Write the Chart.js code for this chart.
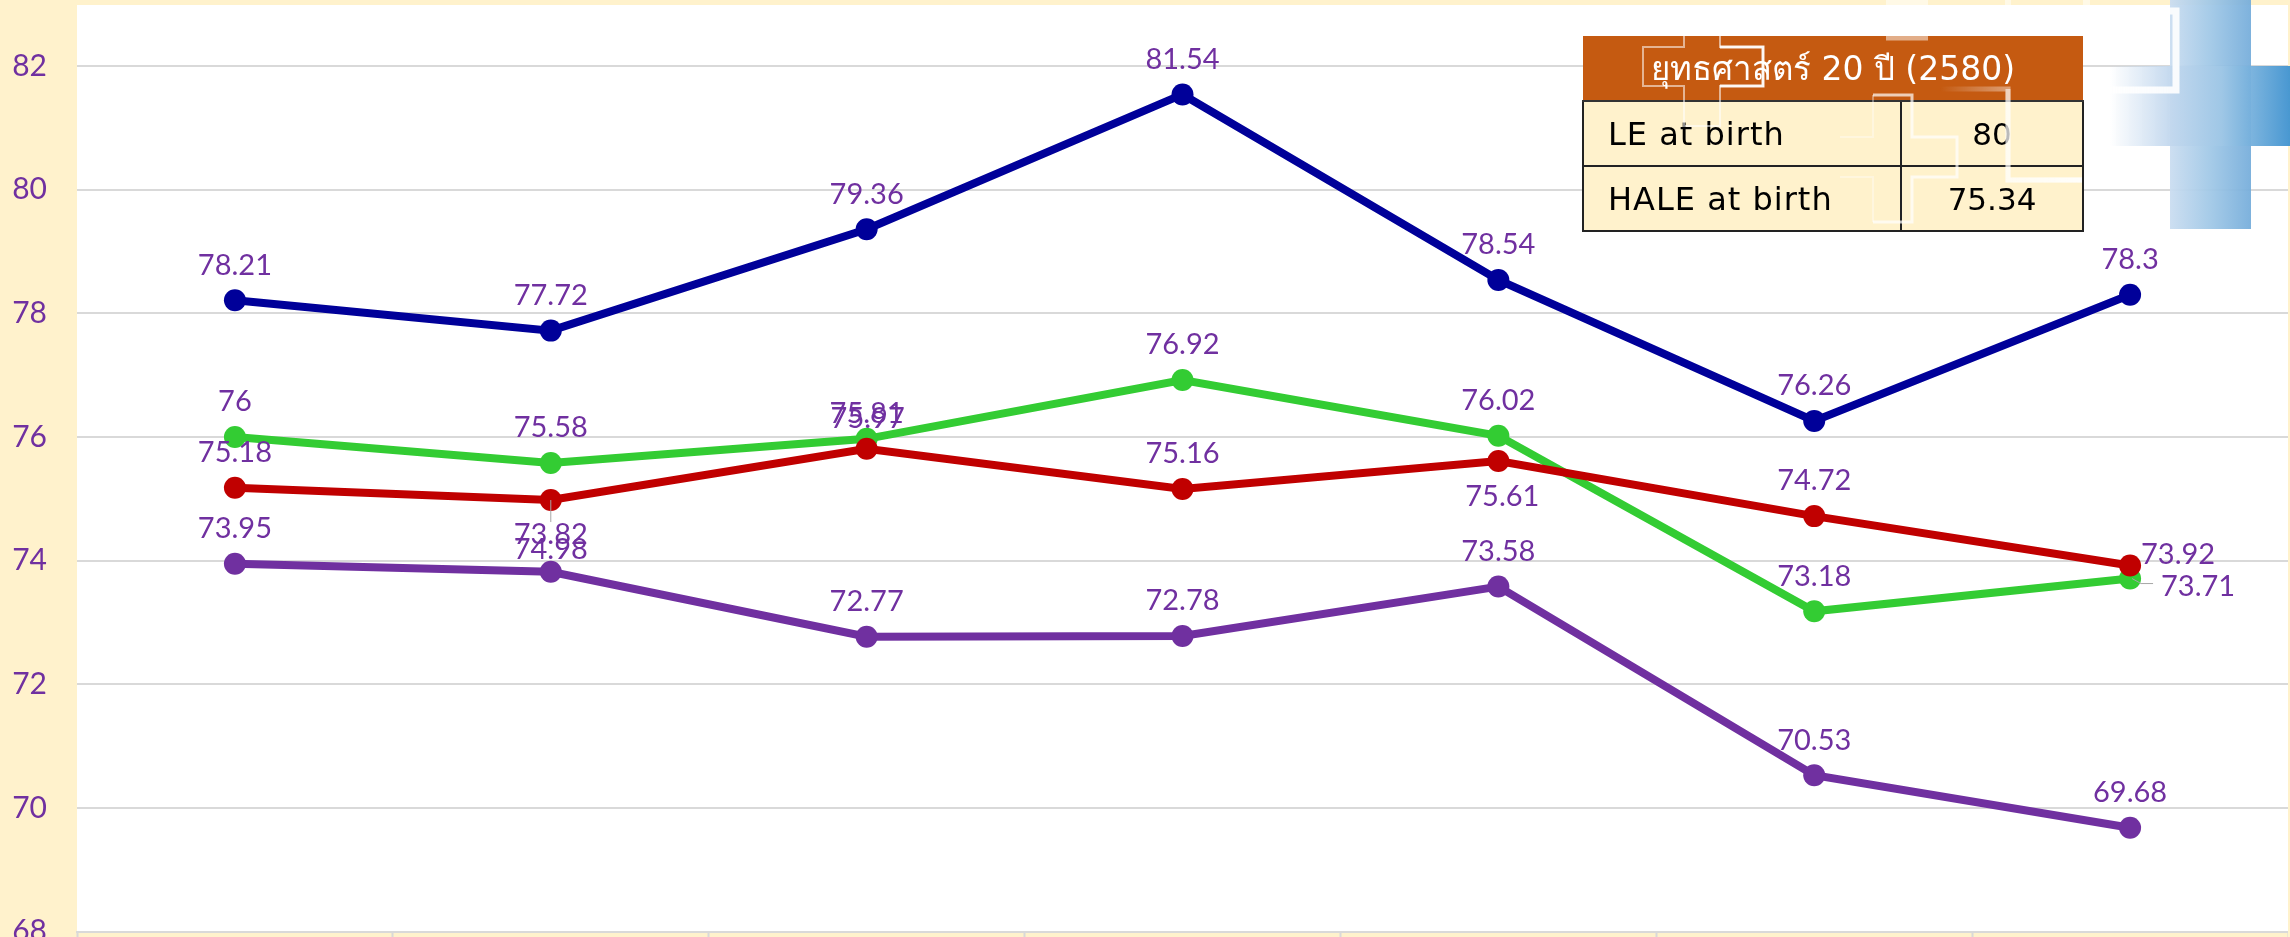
<!DOCTYPE html>
<html lang="th">
<head>
<meta charset="utf-8">
<script src="https://cdn.jsdelivr.net/npm/chart.js@4"></script>
<style>
html,body{margin:0;padding:0;width:2290px;height:937px;overflow:hidden;background:#FFF2CC}
#wrap{position:absolute;left:0;top:0;width:2290px;height:937px;overflow:hidden}
#c{position:absolute;left:0;top:-118px}
#topband{position:absolute;left:0;top:0;width:2290px;height:5px;background:#FFF2CC}
#rightband{position:absolute;left:2288px;top:0;width:2px;height:937px;background:#FFF2CC}
#crossV{position:absolute;left:2170px;top:0;width:81px;height:229px;background:linear-gradient(90deg,#c9dcf0 0%,#9fc7e6 50%,#74acda 100%);opacity:.93}
#crossH{position:absolute;left:2110px;top:66px;width:180px;height:80px;background:linear-gradient(90deg,rgba(255,255,255,0) 0%,#c3d8ee 33%,#9fc7e6 62%,#3f92cf 100%);opacity:.95}
table{position:absolute;left:1582px;top:36px;width:500px;height:193px;border-collapse:collapse;table-layout:fixed;font-family:"DejaVu Sans","Noto Sans",sans-serif;font-size:31px;color:#000}
th{background:#C55A11;color:#fff;font-weight:400;height:64px;padding:0;text-align:center;border:0;border-bottom:2px solid #333;font-size:33px}
td{background:#FFF2CC;border:2px solid #222;height:63px;padding:0}
td.n{padding-left:24px;letter-spacing:1px;font-size:32px}
td.v{text-align:center}
svg{position:absolute;left:0;top:0}
</style>
</head>
<body>
<div id="wrap">
<canvas id="c" width="2310" height="1155"></canvas>
<div id="topband"></div>
<div id="rightband"></div>
<table>
<colgroup><col style="width:318px"><col style="width:182px"></colgroup>
<tr><th colspan="2" id="tt"></th></tr>
<tr><td class="n" id="r0n"></td><td class="v" id="r0v"></td></tr>
<tr><td class="n" id="r1n"></td><td class="v" id="r1v"></td></tr>
</table>
<div id="crossV"></div>
<div id="crossH"></div>
<svg width="2290" height="937" fill="none" stroke="#fff">
<defs>
<linearGradient id="f1" x1="0" x2="1" y1="0" y2="0"><stop offset="0" stop-color="#fff" stop-opacity="0"/><stop offset="1" stop-color="#fff" stop-opacity=".85"/></linearGradient>
</defs>
<path d="M1684 36V47H1643V86H1684V126H1720V86H1763V47H1720V36" stroke-width="2" stroke-opacity=".55"/>
<path d="M1720 47H1763V86H1720" stroke-width="3" stroke-opacity=".9"/>
<path d="M1873 222V177H1840M1873 95V137H1840" stroke-width="2" stroke-opacity=".35"/>
<path d="M1873 95H1912V137H1957V177H1912V222H1873" stroke-width="3" stroke-opacity=".7"/>
<path d="M1940 89H2008V180H2082" stroke-width="5" stroke="url(#f1)"/>
<path d="M2008 89V180H2082" stroke-width="5" stroke-opacity=".55"/>
<path d="M2110 90H2176V11H2165" stroke-width="7" stroke-opacity=".9"/>
<path d="M1886 38H1928M1886 2.5H1928M2005 2.5H2011M2083 2.5H2090" stroke-width="5" stroke-opacity=".5"/>
</svg>
</div>
<script>
// Category names are not visible in the reference (axis is cropped).
const categories = ['1','2','3','4','5','6','7'];
const blueValues   = [78.21,77.72,79.36,81.54,78.54,76.26,78.3];
const greenValues  = [76,75.58,75.97,76.92,76.02,73.18,73.71];
const redValues    = [75.18,74.98,75.81,75.16,75.61,74.72,73.92];
const purpleValues = [73.95,73.82,72.77,72.78,73.58,70.53,69.68];
const tableTitle = 'ยุทธศาสตร์ 20 ปี (2580)';
const tableNames = ['LE at birth','HALE at birth'];
const tableValues = ['80','75.34'];

document.getElementById('tt').textContent = tableTitle;
tableNames.forEach((t,i)=>{document.getElementById('r'+i+'n').textContent=t;document.getElementById('r'+i+'v').textContent=tableValues[i];});

const LABEL = '#7030A0', FONT = '"Lato","Open Sans",sans-serif';
const defaultOffset = [0,-35];
const labelOffsets = {
  1:{2:[1,-20],6:[68,8]},
  2:{1:[0,50],4:[4,36],6:[48,-11]},
  3:{1:[0,-37]}
};
const leaders = {
  1:{6:[[2,0],[11,5],[23,5]]},
  2:{1:[[0,0],[0,22]]}
};

const pointLabels = {
  id:'pointLabels',
  beforeDraw(ch){
    const {ctx,chartArea:a}=ch;
    ctx.save();ctx.fillStyle='#fff';ctx.fillRect(a.left,a.top,a.right-a.left,a.bottom-a.top);ctx.restore();
  },
  afterDatasetsDraw(ch){
    const ctx=ch.ctx;
    ctx.save();
    ch.data.datasets.forEach((ds,di)=>{
      const pts=ch.getDatasetMeta(di).data;
      pts.forEach((p,i)=>{
        const l=(leaders[di]||{})[i];
        if(l){
          ctx.strokeStyle='#A6A6A6';ctx.lineWidth=1;ctx.beginPath();
          l.forEach((o,k)=>k?ctx.lineTo(p.x+o[0],p.y+o[1]):ctx.moveTo(p.x+o[0],p.y+o[1]));
          ctx.stroke();
        }
      });
    });
    ctx.font='29px '+FONT;ctx.fillStyle=LABEL;ctx.textAlign='center';ctx.textBaseline='middle';
    ch.data.datasets.forEach((ds,di)=>{
      const pts=ch.getDatasetMeta(di).data;
      pts.forEach((p,i)=>{
        const o=(labelOffsets[di]||{})[i]||defaultOffset;
        ctx.fillText(String(ds.data[i]),p.x+o[0],p.y+o[1]);
      });
    });
    ctx.restore();
  }
};

function series(label,data,color,order){
  return {label,data,borderColor:color,backgroundColor:color,pointBackgroundColor:color,pointBorderColor:color,
    borderWidth:8,pointRadius:11,pointHoverRadius:11,pointBorderWidth:0,tension:0,fill:false,order};
}

new Chart(document.getElementById('c'),{
  type:'line',
  data:{labels:categories,datasets:[
    series('Blue',blueValues,'#000099',4),
    series('Green',greenValues,'#33CC33',3),
    series('Red',redValues,'#C00000',2),
    series('Purple',purpleValues,'#7030A0',1)
  ]},
  plugins:[pointLabels],
  options:{
    responsive:false,animation:false,
    layout:{padding:{top:60.34,right:22,left:0,bottom:0}},
    plugins:{legend:{display:false},tooltip:{enabled:false},title:{display:false}},
    scales:{
      x:{offset:true,
        grid:{display:true,offset:true,drawOnChartArea:false,drawTicks:true,tickLength:60,tickWidth:2,tickColor:'#D9D9D9',color:'#D9D9D9'},
        border:{display:true,color:'#D9D9D9',width:2},
        ticks:{display:false},
        afterFit(s){s.height=105.4;}
      },
      y:{min:68,max:84,
        grid:{color:'#D9D9D9',lineWidth:2,drawTicks:false},
        border:{display:false},
        ticks:{stepSize:2,padding:30,color:LABEL,font:{family:FONT,size:30}},
        afterFit(s){s.width=77;}
      }
    }
  }
});
</script>
</body>
</html>
